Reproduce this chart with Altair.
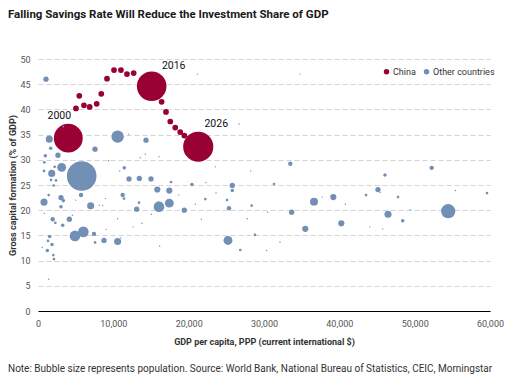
import altair as alt
import pandas as pd

TITLE = "Falling Savings Rate Will Reduce the Investment Share of GDP"
NOTE = ("Note: Bubble size represents population. Source: World Bank, "
        "National Bureau of Statistics, CEIC, Morningstar")
X_TITLE = "GDP per capita, PPP (current international $)"
Y_TITLE = "Gross capital formation (% of GDP)"
GROUPS = ["China", "Other countries"]
X_TICKS = [0, 10000, 20000, 30000, 40000, 50000, 60000]
Y_TICKS = [0, 5, 10, 15, 20, 25, 30, 35, 40, 45, 50]

# China path (GDP per capita, gross capital formation %, bubble value, label)
china_gdp = [4020, 5040, 5480, 6100, 6860, 7790, 8400, 9160, 10090, 11010,
             11810, 12700, 15090, 16410, 16990, 17560, 18220, 18880, 19420, 21270]
china_gcf = [34.3, 40.2, 42.7, 40.8, 40.5, 41.1, 43.1, 46.1, 47.8, 47.8,
             47.0, 47.2, 44.6, 41.5, 39.5, 37.6, 36.4, 35.5, 34.8, 32.6]
china_pop = [1270, 50, 50, 50, 50, 50, 50, 50, 50, 50,
             50, 50, 1333, 50, 50, 50, 50, 50, 50, 1381]
china_label = ["2000", "", "", "", "", "", "", "", "", "",
               "", "", "2016", "", "", "", "", "", "", "2026"]

# Other countries
other_gdp = [1060, 21150, 34800, 3360, 1500, 2160, 1690, 970, 2650, 10570,
             7570, 14340, 12030, 14250, 13580, 16060, 3140, 800, 1820, 11460,
             10840, 9380, 23540, 26680, 28230, 5800, 12080, 13450, 15000, 17650,
             20440, 22300, 25790, 25790, 1730, 2390, 2080, 1420, 800, 840,
             3050, 3360, 3050, 5000, 5710, 6990, 8140, 8590, 8940, 11240,
             11420, 13410, 13100, 16060, 17430, 17430, 15840, 18670, 19420, 20880,
             22210, 21680, 25090, 25350, 28360, 27780, 28800, 25220, 26850, 23630,
             1950, 2300, 3280, 4160, 4560, 4910, 6020, 7430, 7570, 8760,
             9070, 10570, 10980, 10570, 12610, 13800, 15040, 16150, 1550, 1330,
             1860, 570, 1240, 2030, 2120, 1420, 33490, 31330, 36640, 37740,
             39200, 40800, 33670, 30490, 35480, 40260, 32120, 30350, 43540, 45130,
             45400, 46060, 52260, 47790, 46460, 48410, 49420, 44030, 45750, 54450,
             55400, 59600, 840, 2210]
other_gcf = [46.0, 47.0, 47.0, 36.6, 34.1, 33.6, 32.3, 30.8, 30.9, 34.6,
             32.1, 33.9, 35.1, 31.1, 30.4, 30.6, 28.5, 27.8, 27.3, 28.4,
             27.8, 29.8, 28.6, 37.1, 27.8, 26.8, 26.2, 26.3, 26.2, 25.6,
             25.1, 25.5, 24.9, 23.9, 26.0, 25.9, 24.9, 23.0, 21.6, 19.4,
             22.5, 21.9, 20.7, 22.0, 23.0, 20.9, 21.0, 20.9, 22.3, 23.0,
             22.3, 21.5, 20.2, 20.7, 21.4, 23.9, 24.1, 23.0, 20.0, 21.2,
             22.2, 18.2, 22.0, 20.4, 20.9, 18.3, 15.1, 14.0, 12.1, 23.4,
             18.2, 17.5, 17.0, 18.2, 19.0, 14.9, 15.7, 15.3, 13.6, 14.0,
             16.2, 13.8, 14.5, 18.3, 16.7, 17.4, 19.2, 12.9, 14.8, 13.9,
             13.2, 12.6, 12.0, 11.1, 10.3, 6.3, 29.2, 25.2, 21.7, 22.6,
             22.6, 21.2, 19.6, 19.6, 16.3, 17.4, 13.7, 12.0, 23.0, 24.1,
             23.5, 27.0, 28.4, 22.6, 19.2, 17.9, 20.1, 16.7, 16.3, 19.8,
             23.9, 23.4, 29.5, 28.6]
other_pop = [43, 3, 3, 5, 76, 3, 19, 19, 43, 234,
             43, 43, 3, 3, 3, 3, 120, 11, 76, 19,
             3, 3, 3, 3, 3, 1333, 43, 43, 43, 11,
             19, 3, 43, 19, 11, 11, 11, 11, 76, 3,
             43, 19, 19, 3, 30, 76, 3, 3, 3, 30,
             11, 11, 43, 172, 120, 58, 58, 3, 43, 3,
             11, 3, 11, 30, 11, 3, 11, 120, 11, 3,
             30, 11, 19, 43, 3, 172, 172, 30, 11, 43,
             3, 76, 3, 3, 3, 3, 3, 3, 19, 11,
             19, 3, 19, 11, 11, 3, 30, 11, 97, 3,
             58, 3, 43, 3, 58, 58, 3, 3, 11, 43,
             3, 19, 30, 11, 76, 19, 3, 3, 3, 306,
             3, 11, 11, 11]

FONT = "Roboto"
CHINA_RED = "#990033"
OTHER_BLUE = "#7290b6"
LABEL_OFFSETS = {"2000": (-9, -22), "2016": (22, -20), "2026": (18, -23)}

china = pd.DataFrame({"gdp": china_gdp, "gcf": china_gcf, "pop": china_pop,
                      "label": china_label, "group": GROUPS[0]})
others = pd.DataFrame({"gdp": other_gdp, "gcf": other_gcf, "pop": other_pop,
                       "group": GROUPS[1]})

x_enc = alt.X("gdp:Q",
              scale=alt.Scale(domain=[0, 60000], nice=False, zero=True),
              axis=alt.Axis(values=X_TICKS, labelExpr="format(datum.value, ',')",
                            title=X_TITLE, grid=False, labelFlush=False,
                            ticks=False, domainColor="#000000", domainWidth=1,
                            labelPadding=8, titlePadding=9, zindex=1))
y_enc = alt.Y("gcf:Q",
              scale=alt.Scale(domain=[0, 50], nice=False),
              axis=alt.Axis(values=Y_TICKS, title=Y_TITLE, grid=True,
                            gridDash=[5, 3], gridColor="#d4d4d4", gridWidth=1,
                            domain=False, ticks=False, labelPadding=8,
                            titlePadding=2))
color_enc = alt.Color("group:N",
                      scale=alt.Scale(domain=GROUPS, range=[CHINA_RED, OTHER_BLUE]),
                      legend=alt.Legend(title=None, orient="none", legendX=344,
                                        legendY=8, direction="horizontal",
                                        symbolType="circle", symbolSize=30,
                                        symbolOpacity=1, labelFontSize=9,
                                        labelFont=FONT, labelColor="#333333",
                                        columnPadding=6, labelOffset=2))
size_enc = alt.Size("pop:Q", scale=alt.Scale(domain=[0, 1400], range=[0, 920]),
                    legend=None)

china_pts = alt.Chart(china).mark_circle(opacity=1).encode(
    x=x_enc, y=y_enc, color=color_enc, size=size_enc)
other_pts = alt.Chart(others).mark_circle(opacity=1).encode(
    x=x_enc, y=y_enc, color=color_enc, size=size_enc)

label_layers = []
for yr, (dx, dy) in LABEL_OFFSETS.items():
    label_layers.append(
        alt.Chart(china).transform_filter(alt.datum.label == yr)
        .mark_text(dx=dx, dy=dy, font=FONT, fontSize=10.5, color="#111111")
        .encode(x=x_enc, y=y_enc, text="label:N"))

note = alt.Chart(pd.DataFrame({"t": [NOTE]})).mark_text(
    align="left", baseline="middle", font=FONT, fontSize=10, color="#333333"
).encode(x=alt.value(-30), y=alt.value(309.5), text="t:N")

chart = alt.layer(china_pts, other_pts, *label_layers, note).properties(
    width=452, height=252,
    autosize=alt.AutoSizeParams(type="none"),
    padding={"left": 30, "top": 51, "right": 15, "bottom": 64},
    title=alt.TitleParams(TITLE, anchor="start", frame="group", dx=-30,
                          fontSize=11.5, font=FONT, fontWeight="bold",
                          color="#1a1a1a", offset=35),
).configure_view(stroke=None).configure_axis(
    labelFont=FONT, labelFontSize=9, labelColor="#555555",
    titleFont=FONT, titleFontSize=9, titleFontWeight="bold", titleColor="#333333",
)

chart.save("out.html", embed_options={"renderer": "svg", "actions": False})
